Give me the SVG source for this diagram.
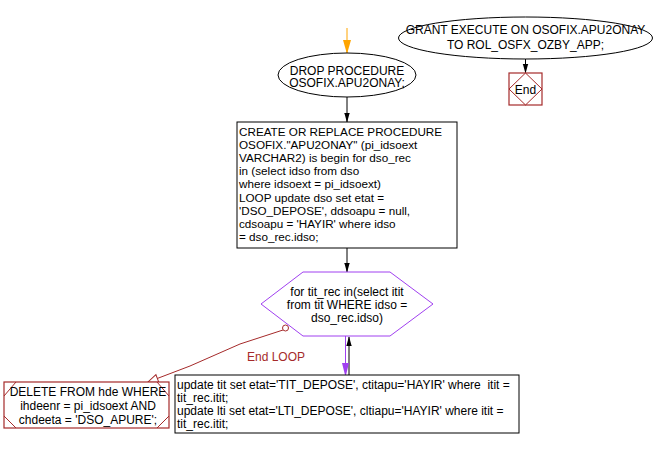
<svg xmlns="http://www.w3.org/2000/svg" width="655" height="449" viewBox="0 0 655 449">
<style>
text { font-family: "Liberation Sans", Arial, sans-serif; font-size: 12px; fill: #000; }
.box { fill: #fff; stroke: #000; stroke-width: 1; }
.red { fill: #fff; stroke: #a52a2a; stroke-width: 1.2; }
.redline { fill: none; stroke: #a52a2a; stroke-width: 1; }
.hex { fill: #fff; stroke: #a040f0; stroke-width: 1; }
.conn { stroke: #000; stroke-width: 1; fill: none; }
.mid { text-anchor: middle; }
.pre { white-space: pre; }
.code { font-size: 11.7px; }
</style>
<defs>
<marker id="ablack" markerUnits="userSpaceOnUse" markerWidth="10" markerHeight="14" refX="13" refY="4" orient="auto" viewBox="0 0 14 8">
<path d="M0,0 L3,1 L14,4 L3,7 L0,8 Z" fill="#000"/>
</marker>
<marker id="aorange" markerUnits="userSpaceOnUse" markerWidth="14" markerHeight="10" refX="13" refY="4" orient="auto" viewBox="0 0 14 8">
<path d="M0,0 L14,4 L0,8 Z" fill="#ffa500"/>
</marker>
<marker id="apurple" markerUnits="userSpaceOnUse" markerWidth="14" markerHeight="8" refX="13" refY="3.5" orient="auto" viewBox="0 0 14 7">
<path d="M0,0 L14,3.5 L0,7 Z" fill="#a040f0"/>
</marker>
<marker id="ahollow" markerUnits="userSpaceOnUse" markerWidth="12" markerHeight="10" refX="10" refY="4" orient="auto" viewBox="-1 -1 12 10">
<path d="M0,0 L10,4 L0,8 Z" fill="#fff" stroke="#a52a2a" stroke-width="1"/>
</marker>
</defs>

<g id="connectors">
<line x1="347" y1="28" x2="347" y2="53" stroke="#ffa500" stroke-width="1" marker-end="url(#aorange)"/>
<line class="conn" x1="347" y1="97" x2="347" y2="122" marker-end="url(#ablack)"/>
<line class="conn" x1="347" y1="248" x2="347" y2="272" marker-end="url(#ablack)"/>
<line class="conn" x1="349" y1="375" x2="349" y2="337" marker-end="url(#ablack)"/>
<line x1="345.5" y1="336" x2="345.5" y2="376" stroke="#a040f0" stroke-width="1" marker-end="url(#apurple)"/>
<line class="conn" x1="525.5" y1="59" x2="525.5" y2="73" marker-end="url(#ablack)"/>
<path class="redline" d="M283,330 L240,344 L190,366 L148,382" marker-end="url(#ahollow)"/>
<circle cx="285.5" cy="328" r="3" fill="#fff" stroke="#a52a2a" stroke-width="1"/>
<text x="247" y="361" style="fill:#a52a2a">End LOOP</text>
</g>

<g id="drop">
<ellipse cx="347" cy="75" rx="69" ry="22" class="box"/>
<text x="347" y="74.5" class="mid">DROP PROCEDURE</text>
<text x="347" y="87" class="mid">OSOFIX.APU2ONAY;</text>
</g>

<g id="grant">
<ellipse cx="525.5" cy="38" rx="127" ry="21" class="box"/>
<text x="525.5" y="34.3" class="mid">GRANT EXECUTE ON OSOFIX.APU2ONAY</text>
<text x="525.5" y="48.7" class="mid">TO ROL_OSFX_OZBY_APP;</text>
</g>

<g id="end">
<rect x="509" y="73" width="33" height="32" class="red"/>
<path d="M525.5,73 L542,89 L525.5,105 L509,89 Z" class="redline"/>
<text x="525.5" y="93.5" class="mid">End</text>
</g>

<g id="create">
<rect x="237" y="122" width="220" height="126" class="box"/>
<text x="239" y="136" class="code">CREATE OR REPLACE PROCEDURE</text>
<text x="239" y="149.1" class="code">OSOFIX."APU2ONAY" (pi_idsoext</text>
<text x="239" y="162.2" class="code">VARCHAR2) is begin for dso_rec</text>
<text x="239" y="175.3" class="code">in (select idso from dso</text>
<text x="239" y="188.4" class="code">where idsoext = pi_idsoext)</text>
<text x="239" y="201.5" class="code">LOOP update dso set etat =</text>
<text x="239" y="214.6" class="code">'DSO_DEPOSE', ddsoapu = null,</text>
<text x="239" y="227.7" class="code">cdsoapu = 'HAYIR' where idso</text>
<text x="239" y="240.8" class="code">= dso_rec.idso;</text>
</g>

<g id="loop">
<polygon points="261,304 303,272 390,272 433,304 390,336 303,336" class="hex"/>
<text x="347" y="295.5" class="mid">for tit_rec in(select itit</text>
<text x="347" y="308.8" class="mid">from tit WHERE idso =</text>
<text x="347" y="322" class="mid">dso_rec.idso)</text>
</g>

<g id="update">
<rect x="175" y="375" width="344" height="58" class="box"/>
<text x="177" y="389" class="pre">update tit set etat='TIT_DEPOSE', ctitapu='HAYIR' where  itit =</text>
<text x="177" y="401.5">tit_rec.itit;</text>
<text x="177" y="415">update lti set etat='LTI_DEPOSE', cltiapu='HAYIR' where itit =</text>
<text x="177" y="427.5">tit_rec.itit;</text>
</g>

<g id="delete">
<rect x="4" y="382" width="165" height="46" class="red"/>
<path class="redline" d="M4,396 L16,382 M4,416 L16,428 M157,382 L169,396 M157,428 L169,416"/>
<text x="88" y="396" class="mid">DELETE FROM hde WHERE</text>
<text x="88" y="410" class="mid">ihdeenr = pi_idsoext AND</text>
<text x="88" y="423.5" class="mid">chdeeta = 'DSO_APURE';</text>
</g>
</svg>
